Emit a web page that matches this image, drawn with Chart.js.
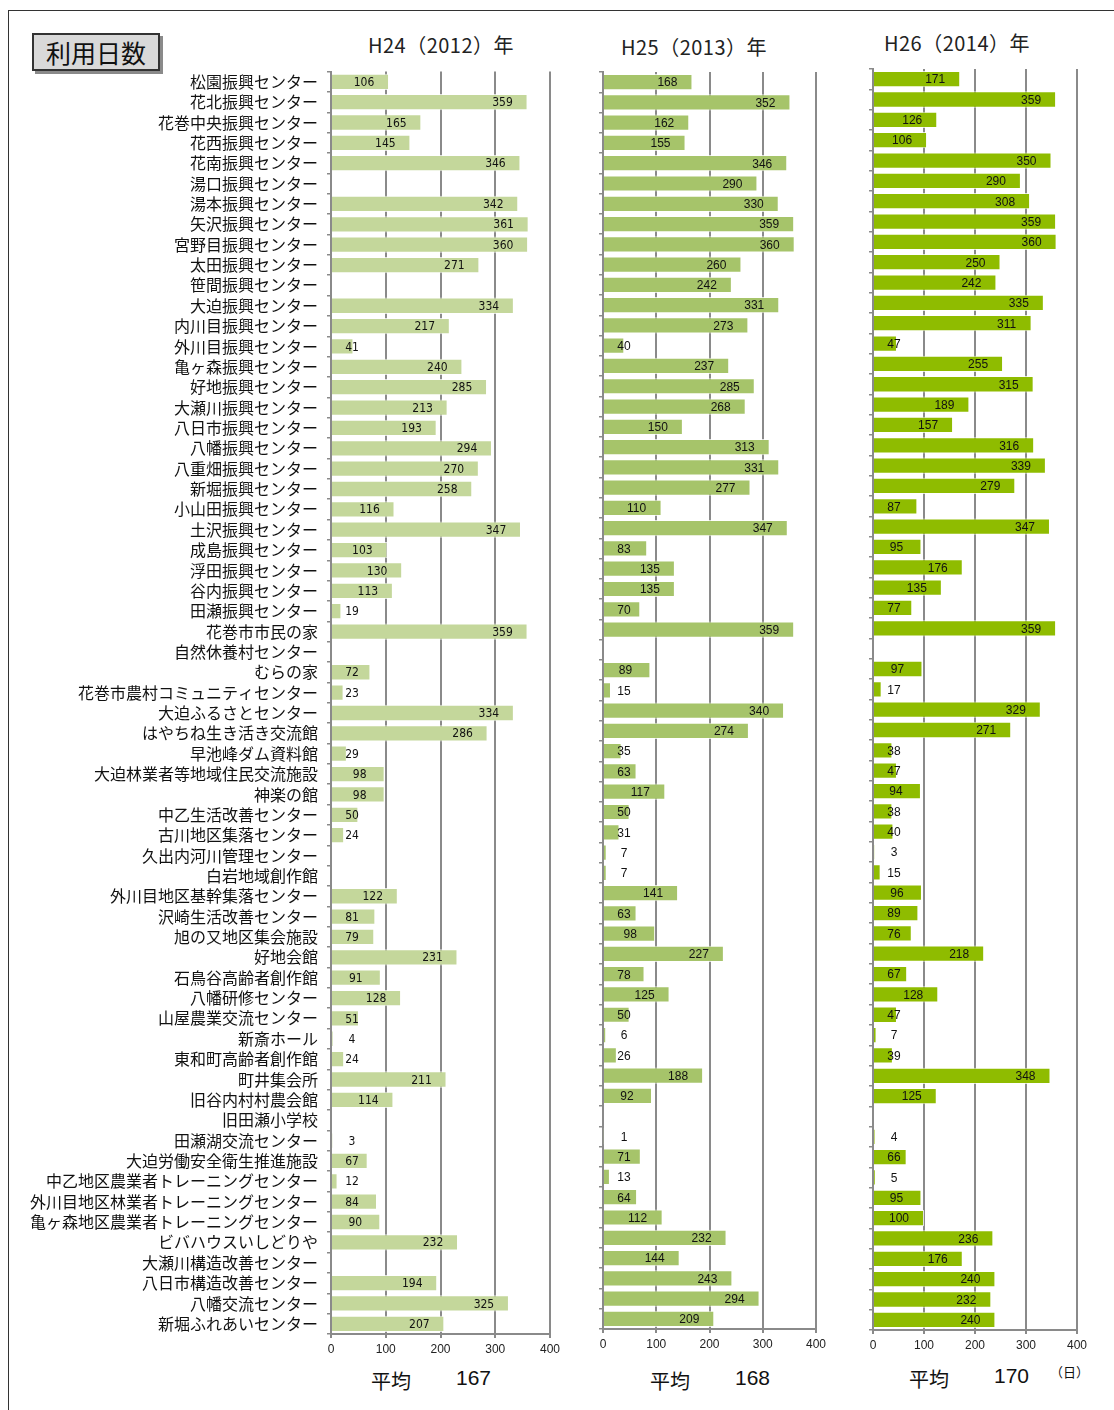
<!DOCTYPE html>
<html lang="ja">
<head>
<meta charset="utf-8">
<script src="https://cdn.jsdelivr.net/npm/chart.js@4/dist/chart.umd.min.js"></script>
<style>
  body { margin: 0; background: #fff; width: 1114px; height: 1410px; position: relative; overflow: hidden;
         font-family: 'Noto Sans CJK JP', sans-serif; color: #111; }
  .frame { position: absolute; left: 8px; top: 10px; width: 1200px; height: 1500px; border: 1.5px solid #333; }
  .badge { position: absolute; left: 32px; top: 33px; width: 124px; height: 34px; background: #d9d9d9;
           border: 2px solid #333; box-shadow: 3px 3px 0 #8a8a8a; font-size: 25px; line-height: 34px; text-align: center; }
  .ttl { position: absolute; font-size: 20px; letter-spacing: 0.5px; white-space: nowrap; transform: translateX(-50%); color: #222; }
  .avg { position: absolute; font-size: 20px; white-space: nowrap; }
  .num { position: absolute; font-size: 21px; font-family: 'Liberation Sans', sans-serif; white-space: nowrap; }
  canvas { position: absolute; }
</style>
</head>
<body>
<div class="frame"></div>
<div class="badge">利用日数</div>
<div class="ttl" style="left:441px; top:30px;">H24（2012）年</div>
<div class="ttl" style="left:694px; top:32px;">H25（2013）年</div>
<div class="ttl" style="left:957px; top:28px;">H26（2014）年</div>

<div class="avg" style="left:371px; top:1366px;">平均</div>
<div class="num" style="left:456px; top:1366px;">167</div>
<div class="avg" style="left:650px; top:1366px;">平均</div>
<div class="num" style="left:735px; top:1366px;">168</div>
<div class="avg" style="left:909px; top:1364px;">平均</div>
<div class="num" style="left:994px; top:1364px;">170</div>
<div style="position:absolute; left:1050px; top:1362px; font-size:13px;">（日）</div>

<canvas id="c1" style="left:0; top:53px;" width="580" height="1311"></canvas>
<canvas id="c2" style="left:580px; top:60px;" width="260" height="1299"></canvas>
<canvas id="c3" style="left:850px; top:60px;" width="250" height="1300"></canvas>

<script>
const facilities = [
  '松園振興センター', '花北振興センター', '花巻中央振興センター', '花西振興センター', '花南振興センター',
  '湯口振興センター', '湯本振興センター', '矢沢振興センター', '宮野目振興センター', '太田振興センター',
  '笹間振興センター', '大迫振興センター', '内川目振興センター', '外川目振興センター', '亀ヶ森振興センター',
  '好地振興センター', '大瀬川振興センター', '八日市振興センター', '八幡振興センター', '八重畑振興センター',
  '新堀振興センター', '小山田振興センター', '土沢振興センター', '成島振興センター', '浮田振興センター',
  '谷内振興センター', '田瀬振興センター', '花巻市市民の家', '自然休養村センター', 'むらの家',
  '花巻市農村コミュニティセンター', '大迫ふるさとセンター', 'はやちね生き活き交流館', '早池峰ダム資料館',
  '大迫林業者等地域住民交流施設', '神楽の館', '中乙生活改善センター', '古川地区集落センター',
  '久出内河川管理センター', '白岩地域創作館', '外川目地区基幹集落センター', '沢崎生活改善センター',
  '旭の又地区集会施設', '好地会館', '石鳥谷高齢者創作館', '八幡研修センター', '山屋農業交流センター',
  '新斎ホール', '東和町高齢者創作館', '町井集会所', '旧谷内村村農会館', '旧田瀬小学校', '田瀬湖交流センター',
  '大迫労働安全衛生推進施設', '中乙地区農業者トレーニングセンター', '外川目地区林業者トレーニングセンター',
  '亀ヶ森地区農業者トレーニングセンター', 'ビバハウスいしどりや', '大瀬川構造改善センター',
  '八日市構造改善センター', '八幡交流センター', '新堀ふれあいセンター'
];

const daysH24 = [106, 359, 165, 145, 346, null, 342, 361, 360, 271,
  null, 334, 217, 41, 240, 285, 213, 193, 294, 270,
  258, 116, 347, 103, 130, 113, 19, 359, null, 72,
  23, 334, 286, 29, 98, 98, 50, 24, null, null,
  122, 81, 79, 231, 91, 128, 51, 4, 24, 211,
  114, null, 3, 67, 12, 84, 90, 232, null, 194, 325, 207];

const daysH25 = [168, 352, 162, 155, 346, 290, 330, 359, 360, 260,
  242, 331, 273, 40, 237, 285, 268, 150, 313, 331,
  277, 110, 347, 83, 135, 135, 70, 359, null, 89,
  15, 340, 274, 35, 63, 117, 50, 31, 7, 7,
  141, 63, 98, 227, 78, 125, 50, 6, 26, 188,
  92, null, 1, 71, 13, 64, 112, 232, 144, 243, 294, 209];

const daysH26 = [171, 359, 126, 106, 350, 290, 308, 359, 360, 250,
  242, 335, 311, 47, 255, 315, 189, 157, 316, 339,
  279, 87, 347, 95, 176, 135, 77, 359, null, 97,
  17, 329, 271, 38, 47, 94, 38, 40, 3, 15,
  96, 89, 76, 218, 67, 128, 47, 7, 39, 348,
  125, null, 4, 66, 5, 95, 100, 236, 176, 240, 232, 240];

const xTicks = [0, 100, 200, 300, 400];

// value labels: inside the bar end, pushed right of the axis when the bar is short
const valueLabels = {
  id: 'valueLabels',
  afterDatasetsDraw(chart, args, opts) {
    const ctx = chart.ctx;
    const x0 = chart.scales.x.getPixelForValue(0);
    const ds = chart.data.datasets[0];
    chart.getDatasetMeta(0).data.forEach((bar, i) => {
      const v = ds.data[i];
      if (v === null) return;
      const x = Math.max(bar.x - 25, x0 + 21);
      ctx.save();
      ctx.font = opts.font;
      ctx.fillStyle = '#111';
      ctx.textAlign = 'center';
      ctx.textBaseline = 'middle';
      ctx.fillText(String(v), x, bar.y + 1);
      ctx.restore();
    });
  }
};

function makeChart(id, values, color, opt) {
  new Chart(document.getElementById(id), {
    type: 'bar',
    data: {
      labels: facilities,
      datasets: [{
        data: values,
        backgroundColor: color,
        borderColor: 'rgba(255,255,255,0.75)',
        borderWidth: 1,
        categoryPercentage: 1,
        barPercentage: 0.8
      }]
    },
    options: {
      indexAxis: 'y',
      responsive: false,
      animation: false,
      layout: { padding: { top: opt.top, right: opt.right, left: 0, bottom: 0 } },
      plugins: {
        legend: { display: false },
        tooltip: { enabled: false },
        valueLabels: { font: opt.labelFont }
      },
      scales: {
        x: {
          min: 0,
          max: 400,
          afterBuildTicks: s => { s.ticks = xTicks.map(v => ({ value: v })); },
          afterFit: s => { s.height = 30; },
          border: { color: '#8a8a8a', width: 2 },
          grid: { color: '#8a8a8a', lineWidth: 2, tickLength: 4 },
          ticks: {
            color: '#222',
            padding: 4,
            font: { family: "'Liberation Sans', sans-serif", size: 12 }
          }
        },
        y: {
          afterFit: s => { s.width = opt.axisWidth; },
          border: { color: '#8a8a8a', width: 2 },
          grid: { color: '#8a8a8a', lineWidth: 1.5, drawOnChartArea: false, tickLength: 4 },
          ticks: {
            display: opt.showNames,
            autoSkip: false,
            padding: 9,
            color: '#111',
            font: { family: "'Noto Sans CJK JP', sans-serif", size: 16 }
          }
        }
      }
    },
    plugins: [valueLabels]
  });
}

makeChart('c1', daysH24, '#c4d79b', {
  top: 12, right: 30, axisWidth: 331, showNames: true,
  labelFont: "12px 'Liberation Sans Narrow', 'DejaVu Sans Condensed', sans-serif"
});
makeChart('c2', daysH25, '#a6c46a', {
  top: 12, right: 24, axisWidth: 23, showNames: false,
  labelFont: "12px 'Liberation Sans', sans-serif"
});
makeChart('c3', daysH26, '#8fbc00', {
  top: 9, right: 23, axisWidth: 23, showNames: false,
  labelFont: "12px 'Liberation Sans', sans-serif"
});
</script>
</body>
</html>
